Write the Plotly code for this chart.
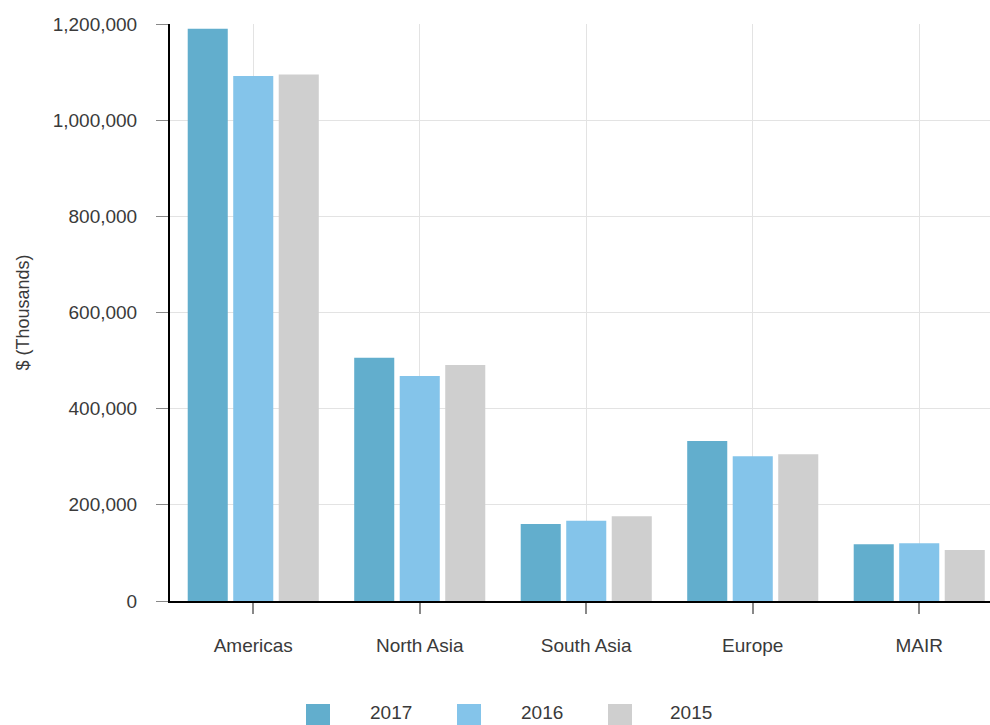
import plotly.graph_objects as go

regions = ["Americas", "North Asia", "South Asia", "Europe", "MAIR"]
series_names = ["2017", "2016", "2015"]
values_2017 = [1190000, 506000, 160000, 333000, 118000]
values_2016 = [1092000, 468000, 167000, 301000, 120000]
values_2015 = [1095000, 491000, 176000, 305000, 106000]
y_ticks = [0, 200000, 400000, 600000, 800000, 1000000, 1200000]
colors = ["#62aecd", "#84c4ea", "#cfcfcf"]

W, H = 990, 725
L, R, T, B = 170, 0, 24, 124
PW, PH = W - L - R, H - T - B

def px_x(p):
    return (p - L) / PW

def px_y(p):
    return (H - B - p) / PH

FONT = "Liberation Sans, Arial, sans-serif"
TXT = "#3a3a3a"

fig = go.Figure()
for name, vals, col in zip(series_names, [values_2017, values_2016, values_2015], colors):
    fig.add_trace(go.Bar(x=regions, y=vals, name=name, marker=dict(color=col, line=dict(width=0)),
                         showlegend=False))

shapes = []
annotations = []
sq_left = [306, 457, 608]
txt_center = [391, 542, 691]
for i, name in enumerate(series_names):
    shapes.append(dict(type="rect", xref="paper", yref="paper",
                       x0=px_x(sq_left[i]), x1=px_x(sq_left[i] + 24),
                       y0=px_y(728), y1=px_y(704),
                       fillcolor=colors[i], line=dict(width=0)))
    annotations.append(dict(text=name, xref="paper", yref="paper",
                            x=px_x(txt_center[i]), y=px_y(712),
                            xanchor="center", yanchor="middle", showarrow=False,
                            borderpad=0,
                            font=dict(family=FONT, size=19, color=TXT)))

annotations.append(dict(text="$ (Thousands)", xref="paper", yref="paper",
                        x=px_x(22), y=0.5, textangle=-90,
                        xanchor="center", yanchor="middle", showarrow=False,
                        font=dict(family=FONT, size=18, color=TXT)))

fig.update_layout(
    width=W, height=H,
    margin=dict(l=L, r=R, t=T, b=B, pad=0),
    paper_bgcolor="white", plot_bgcolor="white",
    barmode="group", bargap=0.18, bargroupgap=0.12,
    font=dict(family=FONT, size=19, color=TXT),
    shapes=shapes, annotations=annotations,
    xaxis=dict(
        type="category", range=[-0.5, 4.425],
        showgrid=True, gridcolor="#e3e3e3", gridwidth=1,
        showline=True, linecolor="black", linewidth=2,
        ticks="outside", ticklen=11, tickcolor="#888888", tickwidth=2,
        ticklabelstandoff=15,
        tickfont=dict(family=FONT, size=19, color=TXT),
        fixedrange=True,
    ),
    yaxis=dict(
        range=[0, 1200000], tickvals=y_ticks, tickformat=",",
        showgrid=True, gridcolor="#e3e3e3", gridwidth=1,
        zeroline=False,
        showline=True, linecolor="black", linewidth=2,
        ticks="outside", ticklen=12, tickcolor="#888888", tickwidth=1,
        ticklabelstandoff=15,
        tickfont=dict(family=FONT, size=19, color=TXT),
        fixedrange=True,
    ),
)

fig.write_html("out.html")
